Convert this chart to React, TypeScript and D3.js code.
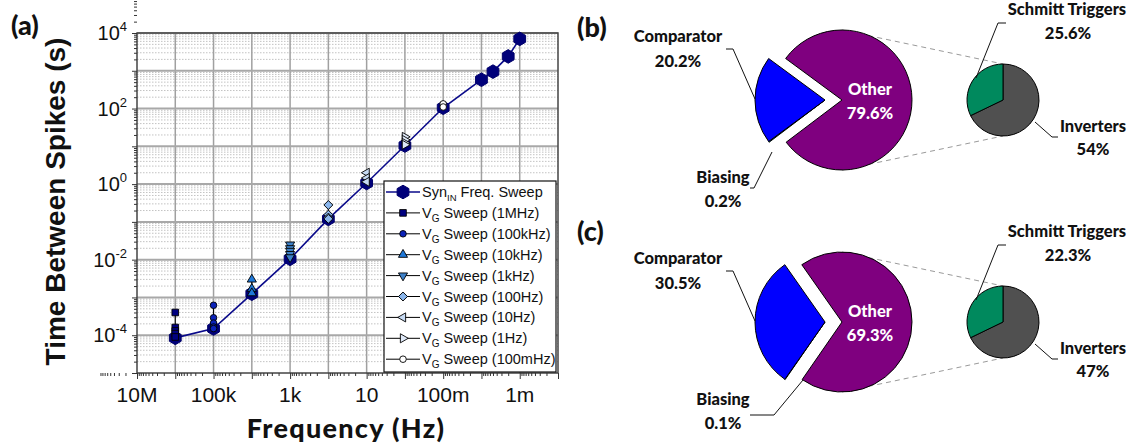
import React, { useEffect, useRef } from "react";
import * as d3 from "d3";

// ---- panel (a) data ----
const synFreq = [1e6, 1e5, 1e4, 1e3, 100, 10, 1, 0.1, 0.01, 0.005, 0.002, 0.001];
const synTime = [8.5e-5, 1.5e-4, 1.25e-3, 0.0105, 0.12, 1.07, 10.5, 105, 580, 950, 2400, 7000];

const vgLabels = ["1MHz", "100kHz", "10kHz", "1kHz", "100Hz", "10Hz", "1Hz", "100mHz"];
const vgFreq = [1e6, 1e5, 1e4, 1e3, 100, 10, 1, 0.1];
const vg1MHz = [4e-4, 1.6e-4, 1.3e-4, 1.1e-4, 9e-5];
const vg100kHz = [6.2e-4, 2.9e-4, 2.1e-4, 1.65e-4, 1.5e-4];
const vg10kHz = [3e-3, 1.7e-3, 1.3e-3];
const vg1kHz = [0.025, 0.02, 0.017, 0.014, 0.0115];
const vg100Hz = [0.28, 0.155, 0.13, 0.12];
const vg10Hz = [2.0, 1.45, 1.15];
const vg1Hz = [17.8, 14.8, 12.3, 11];
const vg100mHz = [133, 110];
const vgTimes = [vg1MHz, vg100kHz, vg10kHz, vg1kHz, vg100Hz, vg10Hz, vg1Hz, vg100mHz];

const xTickValues = [1e7, 1e5, 1e3, 10, 0.1, 1e-3];
const xTickLabels = ["10M", "100k", "1k", "10", "100m", "1m"];
const yTickValues = [1e4, 1e2, 1, 1e-2, 1e-4];
const yTickExps = ["4", "2", "0", "-2", "-4"];

// ---- panels (b), (c) data ----
const mainNames = ["Biasing", "Comparator", "Other"];
const mainB = [0.2, 20.2, 79.6];
const mainC = [0.1, 30.5, 69.3];
const subNames = ["Inverters", "Schmitt Triggers"];
const subB = [54, 25.6];
const subC = [47, 22.3];

const PLOT = { LEFT: 137, RIGHT: 558, TOP: 33, BOTTOM: 373 };
const ARIAL = "'Liberation Sans', Arial, sans-serif";
const GILL = "Lato, 'Open Sans', sans-serif";

const VG_COLORS = ["#000080", "#0b22b8", "#1f78d8", "#3d80c8", "#8ab6ec", "#c6daf3", "#dfe9f8", "#ffffff"];
const VG_SHAPES = [
  { type: d3.symbolSquare, size: 44, rot: 0 },
  { type: d3.symbolCircle, size: 34, rot: 0 },
  { type: d3.symbolTriangle, size: 36, rot: 0 },
  { type: d3.symbolTriangle, size: 36, rot: 180 },
  { type: d3.symbolSquare, size: 40, rot: 45 },
  { type: d3.symbolTriangle, size: 36, rot: -90 },
  { type: d3.symbolTriangle, size: 36, rot: 90 },
  { type: d3.symbolCircle, size: 34, rot: 0 },
];

const hexagon = {
  draw(ctx, size) {
    const r = Math.sqrt(size / (1.5 * Math.sqrt(3)));
    for (let i = 0; i < 6; i++) {
      const a = -Math.PI / 2 + (i * Math.PI) / 3;
      if (i === 0) ctx.moveTo(r * Math.cos(a), r * Math.sin(a));
      else ctx.lineTo(r * Math.cos(a), r * Math.sin(a));
    }
    ctx.closePath();
  },
};

const App = () => {
  const svgRef = useRef(null);

  useEffect(() => {
    const svg = d3.select(svgRef.current);
    svg.selectAll("*").remove();

    const x = d3.scaleLog().domain([1e7, 1e-4]).range([PLOT.LEFT, PLOT.RIGHT]);
    const y = d3.scaleLog().domain([1e-5, 1e4]).range([PLOT.BOTTOM, PLOT.TOP]);

    const xDec = d3.range(-4, 8).map((e) => Math.pow(10, e));
    const yDec = d3.range(-5, 5).map((e) => Math.pow(10, e));
    const minorOf = (decs) => decs.slice(0, -1).flatMap((d) => d3.range(2, 10).map((k) => k * d));

    const a = svg.append("g");

    // minor horizontal grid (dotted)
    a.selectAll(".ymin")
      .data(minorOf(yDec))
      .join("line")
      .attr("x1", PLOT.LEFT)
      .attr("x2", PLOT.RIGHT)
      .attr("y1", (d) => y(d))
      .attr("y2", (d) => y(d))
      .attr("stroke", "#b4b4b4")
      .attr("stroke-width", 0.8)
      .attr("stroke-dasharray", "1.5,1.5");

    // major grid
    a.selectAll(".xmaj")
      .data(xDec.slice(1, -1))
      .join("line")
      .attr("x1", (d) => x(d))
      .attr("x2", (d) => x(d))
      .attr("y1", PLOT.TOP)
      .attr("y2", PLOT.BOTTOM)
      .attr("stroke", "#a0a0a0")
      .attr("stroke-width", 1.5);
    a.selectAll(".ymaj")
      .data(yDec.slice(1))
      .join("line")
      .attr("x1", PLOT.LEFT)
      .attr("x2", PLOT.RIGHT)
      .attr("y1", (d) => y(d))
      .attr("y2", (d) => y(d))
      .attr("stroke", "#a8a8a8")
      .attr("stroke-width", 2);

    // frame
    a.append("rect")
      .attr("x", PLOT.LEFT)
      .attr("y", PLOT.TOP)
      .attr("width", PLOT.RIGHT - PLOT.LEFT)
      .attr("height", PLOT.BOTTOM - PLOT.TOP)
      .attr("fill", "none")
      .attr("stroke", "#444")
      .attr("stroke-width", 1.5);

    // axes ticks
    const noLabel = () => "";
    const tickStyle = (g) => {
      g.select(".domain").remove();
      g.selectAll("line").attr("stroke", "#333");
    };
    a.append("g")
      .attr("transform", `translate(${PLOT.LEFT},0)`)
      .call(d3.axisLeft(y).tickValues(yDec.concat([1e4])).tickSize(5).tickFormat(noLabel))
      .call(tickStyle);
    a.append("g")
      .attr("transform", `translate(${PLOT.LEFT},0)`)
      .call(d3.axisLeft(y).tickValues(minorOf(yDec.concat([1e4]))).tickSize(3).tickFormat(noLabel))
      .call(tickStyle);
    a.append("g")
      .attr("transform", `translate(0,${PLOT.BOTTOM})`)
      .call(d3.axisBottom(x).tickValues(xDec.concat([1e7])).tickSize(6).tickFormat(noLabel))
      .call(tickStyle);
    a.append("g")
      .attr("transform", `translate(0,${PLOT.BOTTOM})`)
      .call(d3.axisBottom(x).tickValues(minorOf(xDec.concat([1e7]))).tickSize(3).tickFormat(noLabel))
      .call(tickStyle);

    // tick labels
    const yl = a.selectAll(".ylab")
      .data(yTickValues)
      .join("text")
      .attr("x", PLOT.LEFT - 10)
      .attr("y", (d) => y(d) + 7)
      .attr("text-anchor", "end")
      .attr("font-family", ARIAL)
      .attr("font-size", 20)
      .attr("fill", "#111");
    yl.append("tspan").text("10");
    yl.append("tspan")
      .attr("dy", -9)
      .attr("font-size", 13)
      .text((d, i) => yTickExps[i]);

    a.selectAll(".xlab")
      .data(xTickValues)
      .join("text")
      .attr("x", (d) => x(d))
      .attr("y", PLOT.BOTTOM + 29)
      .attr("text-anchor", "middle")
      .attr("font-family", ARIAL)
      .attr("font-size", 21)
      .attr("fill", "#111")
      .text((d, i) => xTickLabels[i]);

    // axis titles
    a.append("text")
      .attr("transform", `translate(65,${(PLOT.TOP + 370) / 2}) rotate(-90)`)
      .attr("text-anchor", "middle")
      .attr("font-family", ARIAL)
      .attr("font-weight", "bold")
      .attr("font-size", 28)
      .attr("fill", "#111")
      .text("Time Between Spikes (s)");
    a.append("text")
      .attr("x", 346)
      .attr("y", 438)
      .attr("text-anchor", "middle")
      .attr("font-family", GILL)
      .attr("font-weight", 900)
      .attr("font-size", 27)
      .attr("letter-spacing", 1.3)
      .attr("fill", "#111")
      .text("Frequency (Hz)");

    // Syn_IN sweep
    const line = d3
      .line()
      .x((d) => x(d[0]))
      .y((d) => y(d[1]));
    const synPts = synFreq.map((f, i) => [f, synTime[i]]);
    a.append("path")
      .attr("d", line(synPts))
      .attr("fill", "none")
      .attr("stroke", "#0a0a8a")
      .attr("stroke-width", 1.6);
    const hexPath = d3.symbol().type(hexagon).size(120)();
    a.selectAll(".syn")
      .data(synPts)
      .join("path")
      .attr("d", hexPath)
      .attr("transform", (d) => `translate(${x(d[0])},${y(d[1])})`)
      .attr("fill", "#00007a")
      .attr("stroke", "#00006a")
      .attr("stroke-width", 1);

    // V_G sweeps
    vgTimes.forEach((ts, i) => {
      const f = vgFreq[i];
      const pts = ts.map((t) => [f, t]);
      a.append("path")
        .attr("d", line(pts))
        .attr("fill", "none")
        .attr("stroke", "#000")
        .attr("stroke-width", 1);
      const s = VG_SHAPES[i];
      a.selectAll(`.vg${i}`)
        .data(pts)
        .join("path")
        .attr("d", d3.symbol().type(s.type).size(s.size)())
        .attr("transform", (d) => `translate(${x(d[0])},${y(d[1])}) rotate(${s.rot})`)
        .attr("fill", VG_COLORS[i])
        .attr("stroke", "#000")
        .attr("stroke-width", 0.9);
    });

    // legend
    const lg = a.append("g");
    lg.append("rect")
      .attr("x", 384)
      .attr("y", 181)
      .attr("width", 172)
      .attr("height", 191)
      .attr("fill", "#fff")
      .attr("stroke", "#111")
      .attr("stroke-width", 1.2);
    const rowY = (i) => 192 + i * 20.9;
    lg.append("line")
      .attr("x1", 386)
      .attr("x2", 420)
      .attr("y1", rowY(0))
      .attr("y2", rowY(0))
      .attr("stroke", "#0a0a8a")
      .attr("stroke-width", 1.6);
    lg.append("path")
      .attr("d", hexPath)
      .attr("transform", `translate(403,${rowY(0)})`)
      .attr("fill", "#00007a")
      .attr("stroke", "#00006a");
    const t0 = lg.append("text")
      .attr("x", 422)
      .attr("y", rowY(0) + 5)
      .attr("font-family", ARIAL)
      .attr("font-size", 14.5)
      .attr("fill", "#111");
    t0.append("tspan").text("Syn");
    t0.append("tspan").attr("dy", 4).attr("font-size", 9.5).text("IN");
    t0.append("tspan").attr("dy", -4).text(" Freq. Sweep");

    vgLabels.forEach((lab, i) => {
      const yy = rowY(i + 1);
      const s = VG_SHAPES[i];
      lg.append("line")
        .attr("x1", 386)
        .attr("x2", 420)
        .attr("y1", yy)
        .attr("y2", yy)
        .attr("stroke", "#000")
        .attr("stroke-width", 1);
      lg.append("path")
        .attr("d", d3.symbol().type(s.type).size(s.size)())
        .attr("transform", `translate(403,${yy}) rotate(${s.rot})`)
        .attr("fill", VG_COLORS[i])
        .attr("stroke", "#000")
        .attr("stroke-width", 0.9);
      const t = lg.append("text")
        .attr("x", 422)
        .attr("y", yy + 5)
        .attr("font-family", ARIAL)
        .attr("font-size", 14.5)
        .attr("fill", "#111");
      t.append("tspan").text("V");
      t.append("tspan").attr("dy", 4).attr("font-size", 10).text("G");
      t.append("tspan").attr("dy", -4).text(` Sweep (${lab})`);
    });

    // panel letters
    const letter = (txt, lx, ly) =>
      svg.append("text")
        .attr("x", lx)
        .attr("y", ly)
        .attr("font-family", GILL)
        .attr("font-weight", 900)
        .attr("font-size", 27)
        .attr("fill", "#111")
        .text(txt);
    letter("(a)", 11, 35);
    letter("(b)", 577, 37);
    letter("(c)", 577, 241);

    // pie panels
    const drawPanel = (main, sub, cy, biasLeader) => {
      const g = svg.append("g");
      const cx = 842;
      const R = 70;
      const scx = 1003;
      const sr = 36;
      const total = d3.sum(main);
      const start = (3 * Math.PI) / 2 - ((main[0] + main[1] / 2) / total) * 2 * Math.PI;
      const pie = d3.pie().sort(null).value((d) => d).startAngle(start).endAngle(start + 2 * Math.PI);
      const arc = d3.arc().innerRadius(0).outerRadius(R);
      const mainColors = ["#00b0b0", "#0000ff", "#7f007f"];

      // dashed connectors
      [[cy - R, cy - sr], [cy + R, cy + sr]].forEach(([y1, y2]) => {
        g.append("line")
          .attr("x1", cx)
          .attr("y1", y1)
          .attr("x2", scx)
          .attr("y2", y2)
          .attr("stroke", "#9a9a9a")
          .attr("stroke-width", 1)
          .attr("stroke-dasharray", "5,4");
      });

      g.selectAll(".main")
        .data(pie(main))
        .join("path")
        .attr("d", arc)
        .attr("transform", (d, i) => `translate(${i < 2 ? cx - 17 : cx},${cy})`)
        .attr("fill", (d, i) => mainColors[i])
        .attr("stroke", "#000")
        .attr("stroke-width", 1);

      const subPie = d3.pie().sort(null).value((d) => d).startAngle(0).endAngle(2 * Math.PI);
      const subArc = d3.arc().innerRadius(0).outerRadius(sr);
      g.selectAll(".sub")
        .data(subPie(sub))
        .join("path")
        .attr("d", subArc)
        .attr("transform", `translate(${scx},${cy})`)
        .attr("fill", (d, i) => (i === 0 ? "#505050" : "#00895d"))
        .attr("stroke", "#000")
        .attr("stroke-width", 1);

      const label = (txt, lx, ly, color = "#111") =>
        g.append("text")
          .attr("x", lx)
          .attr("y", ly)
          .attr("text-anchor", "middle")
          .attr("font-family", GILL)
          .attr("font-weight", 900)
          .attr("font-size", 16.5)
          .attr("fill", color)
          .text(txt);
      const pct = (v) => `${v}%`;
      label(mainNames[2], 870, cy - 5, "#fff");
      label(pct(main[2]), 870, cy + 19, "#fff");
      label(mainNames[1], 678, cy - 58);
      label(pct(main[1]), 678, cy - 33);
      label(mainNames[0], 723, cy + 83);
      label(pct(main[0]), 723, cy + 107);
      label(subNames[1], 1067, cy - 85);
      label(pct(sub[1]), 1068, cy - 61);
      label(subNames[0], 1093, cy + 32);
      label(pct(sub[0]), 1093, cy + 55);

      const leader = d3.line();
      const leaders = [
        [[726, cy - 51], [733, cy - 51], [755, cy - 1]],
        biasLeader,
        [[1006, cy - 77], [998, cy - 77], [976, cy - 22]],
        [[1058, cy + 37], [1052, cy + 37], [1035, cy + 22]],
      ];
      leaders.forEach((pts) => {
        g.append("path")
          .attr("d", leader(pts))
          .attr("fill", "none")
          .attr("stroke", "#111")
          .attr("stroke-width", 1);
      });
    };

    drawPanel(mainB, subB, 100, [[750, 188], [754, 188], [772, 152]]);
    drawPanel(mainC, subC, 322, [[750, 415], [774, 415], [803, 380]]);
  }, []);

  return (
    <svg
      ref={svgRef}
      width={1134}
      height={448}
      style={{ position: "absolute", left: 0, top: 0, background: "#fff" }}
    ></svg>
  );
};

export default App;
